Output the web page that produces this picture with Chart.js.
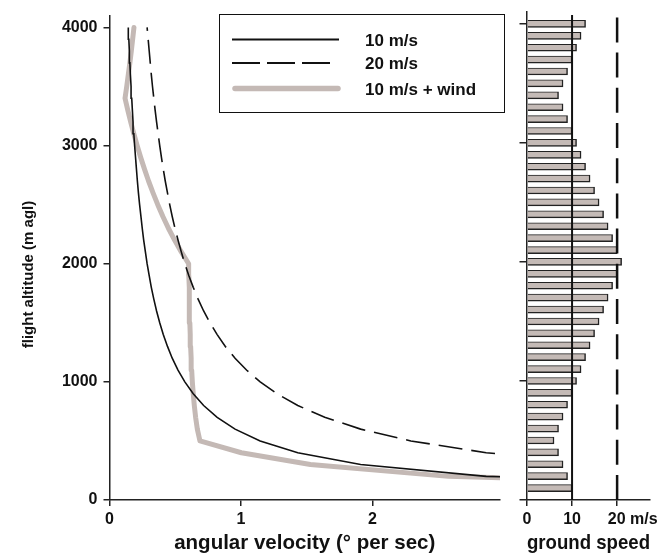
<!DOCTYPE html>
<html><head><meta charset="utf-8">
<script src="https://cdn.jsdelivr.net/npm/chart.js"></script>
<style>
html,body{margin:0;padding:0;background:#fff;}
#wrap{position:relative;width:671px;height:559px;overflow:hidden;background:#fff;}
#left{position:absolute;left:0;top:0;width:515px;height:559px;}
#right{position:absolute;left:505px;top:0;width:166px;height:559px;}
</style></head><body>
<div id="wrap"><div id="left"><canvas id="c1"></canvas></div><div id="right"><canvas id="c2"></canvas></div></div>
<script>
// ---- data ----
const altitudes = [100,200,300,400,500,600,700,800,900,1000,1100,1200,1300,1400,1500,1600,1700,1800,1900,2000,
                   2100,2200,2300,2400,2500,2600,2700,2800,2900,3000,3100,3200,3300,3400,3500,3600,3700,3800,3900,4000];
const omega10 = [5.730,2.865,1.910,1.432,1.146,0.955,0.819,0.716,0.637,0.573,0.521,0.477,0.441,0.409,0.382,0.358,0.337,0.318,0.302,0.286,
                 0.273,0.260,0.249,0.239,0.229,0.220,0.212,0.205,0.198,0.191,0.185,0.179,0.174,0.169,0.164,0.159,0.155,0.151,0.147,0.143];
const omega20 = [11.459,5.730,3.820,2.865,2.292,1.910,1.637,1.432,1.273,1.146,1.042,0.955,0.881,0.819,0.764,0.716,0.674,0.637,0.603,0.573,
                 0.546,0.521,0.498,0.477,0.458,0.441,0.424,0.409,0.395,0.382,0.370,0.358,0.347,0.337,0.327,0.318,0.310,0.302,0.294,0.286];
const omegaWind = [5.730,2.578,1.528,1.003,0.688,0.668,0.655,0.645,0.637,0.630,0.625,0.621,0.617,0.614,0.611,0.609,0.607,0.605,0.603,0.602,
                   0.546,0.495,0.448,0.406,0.367,0.331,0.297,0.266,0.237,0.210,0.185,0.161,0.139,0.118,0.131,0.143,0.155,0.166,0.176,0.186];
const groundSpeed = [10,9,8,7,6,7,8,9,10,11,12,13,14,15,16,17,18,19,20,21,
                     20,19,18,17,16,15,14,13,12,11,10,9,8,7,8,9,10,11,12,13];
const seriesNames = ['10 m/s','20 m/s','10 m/s + wind'];
const altitudeTicks = [0,1000,2000,3000,4000];
const angularTicks = [0,1,2];
const speedTicks = [0,10,20];
const speedTickLabels = ['0','10','20 m/s'];
const refSpeeds = [10,20];
const refTops = [4075,4060];

// ---- styles ----
const FONT = "'Liberation Sans', Arial, Helvetica, sans-serif";
Chart.defaults.font.family = FONT;
Chart.defaults.font.weight = 'bold';
Chart.defaults.color = '#111';
const AX = '#222';
const GREY = '#c4b9b5';

function axisGrid(len){ return {display:true, drawOnChartArea:false, drawTicks:true, tickLength:len, color:AX, lineWidth:1.5, offset:false}; }
const axisBorder = {display:true, color:AX, width:1.5};

const legendPlugin = {
  id:'boxLegend',
  afterDraw(chart){
    const ctx = chart.ctx;
    ctx.save();
    ctx.fillStyle = '#fff';
    ctx.fillRect(219.5,14.5,285,98);
    ctx.strokeStyle = '#111'; ctx.lineWidth = 1;
    ctx.strokeRect(219.5,14.5,285,98);
    const rows = [39.5,63,88.5];
    const ends = [339,330,338];
    chart.data.datasets.forEach((ds,i)=>{
      ctx.beginPath();
      ctx.setLineDash(i===1 ? [28,7] : []);
      ctx.strokeStyle = ds.borderColor;
      ctx.lineWidth = i===2 ? 5.5 : 1.8;
      ctx.lineCap = i===2 ? 'round' : 'butt';
      ctx.moveTo(i===2 ? 235 : 232, rows[i]);
      ctx.lineTo(ends[i], rows[i]);
      ctx.stroke();
      ctx.setLineDash([]);
      ctx.fillStyle = '#111';
      ctx.font = 'bold 17px ' + FONT;
      ctx.textBaseline = 'middle';
      ctx.textAlign = 'left';
      ctx.fillText(ds.label, 365, rows[i] + 1.5);
    });
    ctx.restore();
  }
};

function pts(xs){ return altitudes.map((h,i)=>({x:xs[i], y:h})); }

new Chart(document.getElementById('c1'), {
  type:'line',
  data:{ datasets:[
    {label:seriesNames[0], data:pts(omega10), borderColor:'#111', borderWidth:1.6, pointRadius:0, tension:0, fill:false},
    {label:seriesNames[1], data:pts(omega20), borderColor:'#111', borderWidth:1.6, borderDash:[24,9], pointRadius:0, tension:0, fill:false},
    {label:seriesNames[2], data:pts(omegaWind), borderColor:GREY, borderWidth:5, borderJoinStyle:'round', borderCapStyle:'round', pointRadius:0, tension:0, fill:false}
  ]},
  options:{
    responsive:true, maintainAspectRatio:false, animation:false,
    layout:{padding:{left:0, top:12, right:15, bottom:3}},
    plugins:{legend:{display:false}, tooltip:{enabled:false}},
    scales:{
      x:{type:'linear', min:0, max:2.97,
        afterBuildTicks:s=>{ s.ticks = angularTicks.map(v=>({value:v})); },
        afterFit:s=>{ s.height = 56; },
        grid:axisGrid(6), border:axisBorder,
        ticks:{font:{size:16, weight:'bold'}, padding:4, color:'#111', maxRotation:0, autoSkip:false, callback:v=>String(v)},
        title:{display:true, text:'angular velocity (° per sec)', font:{size:20.5, weight:'bold'}, color:'#111', padding:{top:0,bottom:0}}
      },
      y:{type:'linear', min:0, max:4100,
        afterBuildTicks:s=>{ s.ticks = altitudeTicks.map(v=>({value:v})); },
        afterFit:s=>{ s.width = 109.5; },
        grid:axisGrid(6), border:axisBorder,
        ticks:{font:{size:16, weight:'bold'}, padding:6, color:'#111', autoSkip:false, callback:v=>String(v)},
        title:{display:true, text:'flight altitude (m agl)' + '        ', font:{size:15, weight:'bold'}, color:'#111', padding:{top:20,bottom:0}}
      }
    }
  },
  plugins:[legendPlugin]
});

const unitPad = '       ';
new Chart(document.getElementById('c2'), {
  type:'bar',
  data:{ datasets:[
    {type:'line', data:[{x:refSpeeds[0], y:0},{x:refSpeeds[0], y:refTops[0]}], borderColor:'#111', borderWidth:2, pointRadius:0, fill:false},
    {type:'line', data:[{x:refSpeeds[1], y:0},{x:refSpeeds[1], y:refTops[1]}], borderColor:'#111', borderWidth:2.5, borderDash:[25,10.2], pointRadius:0, fill:false},
    {type:'bar', data:pts(groundSpeed), backgroundColor:'#c4bab6', borderColor:'#222',
      borderWidth:{top:1, right:1.5, bottom:1.5, left:0}, borderSkipped:false, barThickness:7}
  ]},
  options:{
    indexAxis:'y',
    responsive:true, maintainAspectRatio:false, animation:false,
    layout:{padding:{left:0, top:12, right:21, bottom:3}},
    plugins:{legend:{display:false}, tooltip:{enabled:false}},
    scales:{
      x:{type:'linear', min:0, max:27.3, offset:false,
        afterBuildTicks:s=>{ s.ticks = speedTicks.map(v=>({value:v})); },
        afterFit:s=>{ s.height = 56; },
        grid:axisGrid(6), border:axisBorder,
        ticks:{font:{size:16, weight:'bold'}, padding:4, color:'#111', maxRotation:0, autoSkip:false,
          callback:(v)=>{ const l = speedTickLabels[speedTicks.indexOf(v)]; return l.indexOf(' ')>0 ? unitPad + l : l; }},
        title:{display:true, text:'ground speed', font:{size:20.5, weight:'bold'}, color:'#111', padding:{top:0,bottom:0}}
      },
      y:{type:'linear', min:0, max:4100, offset:false,
        afterBuildTicks:s=>{ s.ticks = altitudeTicks.map(v=>({value:v})); },
        afterFit:s=>{ s.width = 22; },
        grid:axisGrid(7.5), border:axisBorder,
        ticks:{display:false}
      }
    }
  }
});
</script>
</body></html>
